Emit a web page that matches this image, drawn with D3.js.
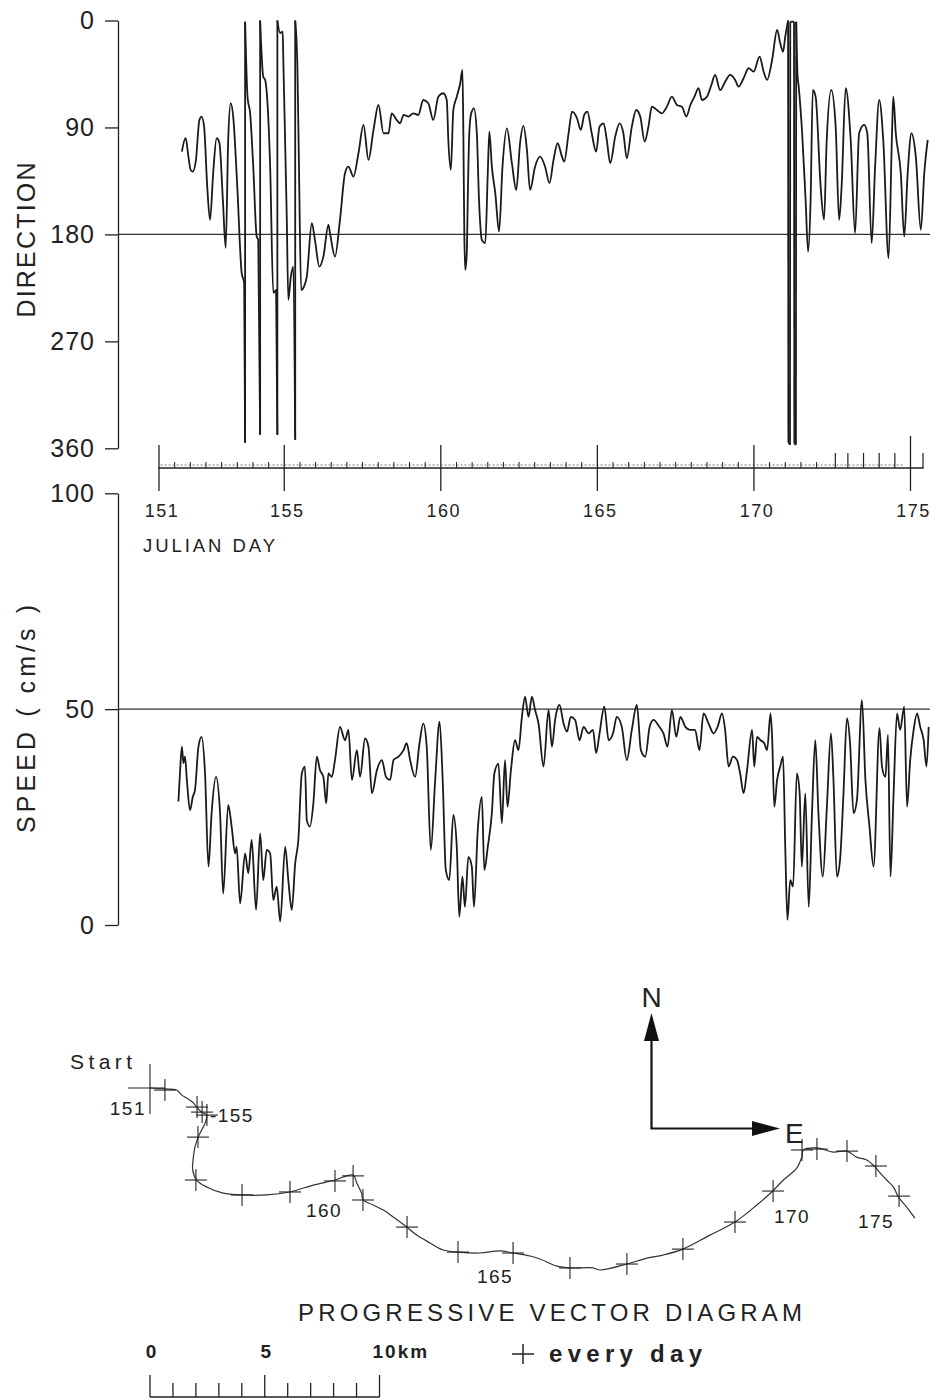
<!DOCTYPE html>
<html>
<head>
<meta charset="utf-8">
<script src="https://cdn.jsdelivr.net/npm/d3@7"></script>
<style>
  body { margin: 0; background: #fff; }
  svg { display: block; }
  text { font-family: "Liberation Sans", Arial, Helvetica, sans-serif; fill: #222; }
</style>
</head>
<body>
<svg id="chart" width="930" height="1400"></svg>
<script>
// ── Data ──────────────────────────────────────────────────────────
const dirTicks   = [0, 90, 180, 270, 360];
const speedTicks = [0, 50, 100];
const dayTicks   = [151, 155, 160, 165, 170, 175];
const markTicks  = [172.6, 173.0, 173.5, 174.0, 174.5, 175.4];
const kmTicks    = [0, 1, 2, 3, 4, 5, 6, 7, 8, 9, 10];
const kmLabels   = [0, 5, 10];

// [julian day, direction deg]; wraps through 0/360 are kept as drawn by the plotter
const direction = [
  [151.73,110.4],[151.85,98.8],[151.94,114.6],[152.01,125.7],[152.08,127.2],[152.18,117.3],[152.29,83.7],[152.36,80.9],
  [152.44,89.3],[152.54,139.8],[152.63,167.8],[152.73,128.5],[152.84,99.1],[152.93,103.0],[153.04,151.0],[153.13,191.4],
  [153.21,100.5],[153.29,69.6],[153.37,80.9],[153.50,139.8],[153.64,212.4],[153.72,220.8],[153.75,355.4],[153.75,1.0],
  [153.83,65.2],[153.91,77.8],[154.01,123.0],[154.12,181.8],[154.17,184.6],[154.23,348.6],[154.23,0],[154.33,47.3],
  [154.39,50.0],[154.55,123.0],[154.65,229.2],[154.74,226.7],[154.78,348.6],[154.78,0],[154.87,10.5],[154.95,9.4],
  [154.97,33.2],[155.08,165.0],[155.13,235.1],[155.21,215.5],[155.29,207.1],[155.35,352.8],[155.35,0],[155.42,38.9],
  [155.47,123.0],[155.54,226.7],[155.63,223.9],[155.72,215.5],[155.88,170.6],[155.98,184.6],[156.12,207.1],[156.25,198.7],
  [156.41,172.0],[156.46,178.7],[156.62,198.7],[156.78,167.8],[156.94,128.5],[157.05,123.0],[157.21,131.4],[157.37,111.7],
  [157.53,87.9],[157.69,117.3],[157.85,92.1],[158.01,71.1],[158.17,94.9],[158.33,94.9],[158.43,78.1],[158.59,83.7],
  [158.70,86.5],[158.81,79.5],[158.97,80.9],[159.12,78.1],[159.28,79.5],[159.44,66.9],[159.60,69.6],[159.76,83.7],
  [159.92,64.1],[160.08,61.2],[160.19,66.9],[160.24,100.5],[160.32,125.7],[160.40,75.3],[160.51,64.1],[160.62,52.8],
  [160.69,41.6],[160.72,94.6],[160.75,178.7],[160.78,209.9],[160.83,195.6],[160.86,151.0],[160.91,94.6],[160.97,78.1],
  [161.06,73.9],[161.15,94.9],[161.22,151.0],[161.31,184.6],[161.42,187.4],[161.50,128.5],[161.55,93.5],[161.63,123.0],
  [161.74,145.3],[161.86,177.6],[161.97,123.0],[162.11,90.7],[162.27,120.1],[162.41,142.6],[162.53,103.3],[162.64,88.7],
  [162.75,108.9],[162.85,142.6],[163.01,123.0],[163.17,114.6],[163.33,123.0],[163.47,136.9],[163.60,117.3],[163.73,103.3],
  [163.87,114.6],[163.94,118.8],[164.08,94.9],[164.19,76.7],[164.35,82.3],[164.47,92.1],[164.58,79.5],[164.68,76.7],
  [164.82,94.9],[164.96,110.4],[165.07,89.3],[165.20,86.5],[165.30,100.5],[165.41,120.1],[165.57,97.7],[165.71,86.5],
  [165.83,94.9],[165.94,115.9],[166.10,89.3],[166.24,75.3],[166.37,80.9],[166.51,101.9],[166.63,89.3],[166.74,72.5],
  [166.90,75.3],[167.06,78.1],[167.22,72.5],[167.38,64.1],[167.54,71.1],[167.70,72.5],[167.84,80.9],[167.97,71.1],
  [168.10,64.1],[168.23,57.0],[168.34,66.9],[168.50,64.1],[168.64,54.3],[168.76,45.8],[168.92,58.5],[169.08,51.5],
  [169.24,45.8],[169.40,50.0],[169.51,55.7],[169.67,48.6],[169.83,40.2],[169.99,43.1],[170.18,30.4],[170.31,43.1],
  [170.42,50.0],[170.58,33.2],[170.74,8.0],[170.84,19.2],[170.93,26.2],[171.00,13.6],[171.09,0],[171.10,355],
  [171.15,357],[171.16,1],[171.28,1],[171.29,356],[171.34,357],[171.35,1],[171.39,45],[171.43,55.7],
  [171.54,94.9],[171.65,151.0],[171.73,194.5],[171.81,151.0],[171.88,58.5],[171.97,64.1],[172.13,139.8],[172.24,167.8],
  [172.32,103.3],[172.47,58.5],[172.61,89.3],[172.72,167.8],[172.80,139.8],[172.93,57.0],[173.09,100.5],[173.23,179.0],
  [173.36,94.9],[173.52,87.9],[173.62,94.9],[173.76,187.4],[173.87,123.0],[174.00,66.9],[174.13,100.5],[174.30,200.0],
  [174.41,94.9],[174.45,64.1],[174.53,94.9],[174.69,128.5],[174.80,181.8],[174.91,128.5],[175.03,94.9],[175.17,114.6],
  [175.33,176.2],[175.44,128.5],[175.55,100.5]
];

// [julian day, speed cm/s]
const speed = [
  [151.62,28.6],[151.67,35.2],[151.73,41.3],[151.78,37.5],[151.83,39.0],[151.89,33.6],[151.99,26.6],[152.08,29.7],
  [152.15,31.3],[152.26,41.3],[152.36,43.6],[152.47,35.1],[152.58,13.5],[152.68,25.9],[152.82,34.3],[152.95,25.9],
  [153.05,7.3],[153.21,27.8],[153.32,22.8],[153.43,16.6],[153.48,18.1],[153.59,5.0],[153.75,16.6],[153.85,12.0],
  [153.96,19.7],[154.10,3.5],[154.23,21.2],[154.33,10.4],[154.44,17.4],[154.55,16.6],[154.65,5.8],[154.76,8.9],
  [154.87,0.8],[155.03,18.1],[155.13,10.4],[155.24,3.5],[155.35,14.3],[155.45,19.7],[155.56,35.1],[155.66,36.7],
  [155.72,24.3],[155.82,22.8],[155.93,28.2],[156.04,39.0],[156.14,35.9],[156.25,34.3],[156.34,28.2],[156.41,35.1],
  [156.52,34.3],[156.62,38.2],[156.78,45.9],[156.94,42.8],[157.05,45.2],[157.16,33.6],[157.32,40.5],[157.42,34.3],
  [157.58,43.2],[157.69,41.3],[157.80,30.5],[157.96,35.9],[158.12,38.2],[158.25,34.3],[158.38,33.6],[158.49,38.2],
  [158.65,39.0],[158.81,40.5],[158.91,42.1],[159.02,38.2],[159.18,34.3],[159.32,42.1],[159.44,46.7],[159.55,41.3],
  [159.68,17.4],[159.82,33.6],[159.96,47.1],[160.06,33.6],[160.16,12.7],[160.27,10.4],[160.40,25.5],[160.51,18.1],
  [160.59,1.9],[160.69,11.2],[160.77,4.2],[160.88,15.8],[160.99,13.5],[161.06,4.2],[161.18,22.0],[161.31,29.7],
  [161.39,12.7],[161.50,18.1],[161.63,25.9],[161.71,35.1],[161.84,37.4],[161.95,23.6],[162.05,38.2],[162.13,27.4],
  [162.24,35.9],[162.37,42.8],[162.48,40.5],[162.59,48.2],[162.69,52.9],[162.80,48.2],[162.91,52.9],[163.01,49.8],
  [163.12,46.7],[163.28,36.7],[163.44,49.8],[163.55,41.3],[163.65,47.5],[163.79,51.0],[163.92,46.7],[164.03,44.8],
  [164.15,48.2],[164.29,47.5],[164.43,42.8],[164.56,45.9],[164.72,44.4],[164.86,45.2],[164.96,39.8],[165.07,44.4],
  [165.22,50.6],[165.36,42.8],[165.50,44.4],[165.62,48.2],[165.78,45.9],[165.94,38.2],[166.10,45.2],[166.26,51.0],
  [166.39,40.5],[166.53,39.0],[166.67,45.9],[166.79,47.5],[166.98,45.9],[167.11,44.4],[167.24,41.3],[167.38,49.8],
  [167.52,43.6],[167.65,48.2],[167.81,45.9],[167.96,45.2],[168.12,45.2],[168.26,40.5],[168.39,49.0],[168.55,46.7],
  [168.71,44.4],[168.84,45.9],[168.98,49.0],[169.08,45.2],[169.19,36.7],[169.33,39.0],[169.46,38.2],[169.56,35.1],
  [169.67,30.5],[169.78,35.9],[169.94,45.2],[170.01,36.7],[170.10,43.6],[170.21,42.8],[170.33,42.1],[170.42,40.5],
  [170.53,49.0],[170.58,43.6],[170.65,27.4],[170.74,33.6],[170.84,36.7],[170.93,39.0],[171.00,18.1],[171.07,1.2],
  [171.16,10.4],[171.25,8.9],[171.37,35.1],[171.46,30.5],[171.53,13.5],[171.64,30.5],[171.75,4.2],[171.85,25.1],
  [171.96,42.8],[172.06,25.9],[172.20,11.2],[172.33,27.4],[172.46,44.4],[172.54,33.6],[172.65,11.2],[172.75,15.1],
  [172.86,30.5],[172.97,47.9],[173.07,42.1],[173.18,25.9],[173.29,29.0],[173.45,52.1],[173.56,33.6],[173.69,22.8],
  [173.82,13.5],[174.01,45.6],[174.09,36.7],[174.20,34.3],[174.28,44.0],[174.36,11.2],[174.46,30.5],[174.57,49.0],
  [174.67,45.2],[174.80,50.6],[174.89,27.4],[174.99,38.2],[175.10,45.2],[175.21,49.0],[175.31,45.9],[175.42,42.8],
  [175.51,36.7],[175.58,45.9]
];

// progressive vector track, [km east, km north] from the start
const pvdTrack = [
  [0,0],[0.65,-0.04],[1.16,-0.09],[1.38,-0.31],[1.60,-0.44],[1.89,-0.65],[2.03,-0.83],[2.25,-1.05],[2.47,-1.18],
  [2.40,-1.53],[2.25,-1.83],[2.10,-2.14],[1.96,-2.57],[1.89,-3.01],[1.86,-3.57],[2.03,-4.01],[2.47,-4.31],[3.19,-4.58],
  [4.00,-4.66],[5.08,-4.66],[6.10,-4.53],[7.12,-4.23],[8.06,-4.01],[8.42,-3.88],[8.86,-3.79],[9.01,-4.14],[9.22,-4.58],
  [9.29,-4.88],[9.73,-5.10],[10.17,-5.32],[10.60,-5.62],[11.19,-6.06],[11.62,-6.41],[12.20,-6.75],[12.78,-7.06],
  [13.43,-7.15],[14.38,-7.19],[15.25,-7.10],[15.83,-7.19],[16.56,-7.32],[16.99,-7.45],[17.73,-7.76],[18.30,-7.84],
  [19.30,-7.84],[19.61,-7.93],[20.78,-7.67],[21.66,-7.41],[22.35,-7.28],[23.22,-7.02],[24.40,-6.41],[25.49,-5.84],
  [26.44,-5.10],[27.09,-4.53],[27.60,-4.01],[28.18,-3.49],[28.40,-3.01],[28.47,-2.70],[29.05,-2.61],[29.77,-2.79],
  [30.36,-2.75],[30.79,-3.01],[31.23,-3.14],[31.59,-3.44],[31.81,-3.70],[32.10,-4.01],[32.39,-4.31],[32.61,-4.75],
  [32.97,-5.19],[33.33,-5.67]
];

// daily positions on the track, [julian day, km east, km north]
const pvdDays = [
  [151,0,0],[152,0.65,-0.09],[153,2.05,-0.83],[154,2.27,-1.05],[155,2.48,-1.18],[156,2.09,-2.14],[157,2.00,-4.01],
  [158,4.01,-4.66],[159,6.10,-4.53],[160,8.06,-4.05],[161,8.85,-3.83],[162,9.28,-4.88],[163,11.20,-6.06],
  [164,13.42,-7.15],[165,15.82,-7.19],[166,18.30,-7.84],[167,20.78,-7.67],[168,23.22,-7.02],[169,25.49,-5.84],
  [170,27.15,-4.49],[171,28.41,-2.70],[172,29.06,-2.66],[173,30.37,-2.75],[174,31.63,-3.40],[175,32.64,-4.71]
];
const pvdLabelDays = [151, 155, 160, 165, 170, 175];

// ── Layout ────────────────────────────────────────────────────────
const svg = d3.select("#chart");
const INK = "#222";

const x    = d3.scaleLinear().domain([151, 175]).range([159, 910.5]);
const yDir = d3.scaleLinear().domain([0, 360]).range([20.5, 448.3]);
const ySpd = d3.scaleLinear().domain([0, 100]).range([925, 493.3]);
const pe   = d3.scaleLinear().domain([0, 10]).range([150, 379.5]);
const pn   = d3.scaleLinear().domain([0, -10]).range([1088, 1317.5]);

const AXIS_X = 118;

// ── Y axes ────────────────────────────────────────────────────────
function yAxis(scale, ticks) {
  const g = svg.append("g")
    .attr("transform", `translate(${AXIS_X},0)`)
    .call(d3.axisLeft(scale).tickValues(ticks).tickSize(13).tickSizeOuter(0).tickPadding(10));
  g.selectAll(".domain").attr("stroke", INK).attr("stroke-width", 1.3);
  g.selectAll(".tick line").attr("stroke", INK).attr("stroke-width", 1.3);
  g.selectAll(".tick text")
    .attr("fill", INK)
    .attr("font-size", 25)
    .attr("letter-spacing", 1)
    .attr("font-family", '"Liberation Sans", Arial, sans-serif');
  return g;
}
yAxis(yDir, dirTicks);
yAxis(ySpd, speedTicks);

function rotLabel(txt, cx, cy, len) {
  svg.append("text")
    .attr("transform", `translate(${cx},${cy}) rotate(-90)`)
    .attr("text-anchor", "middle")
    .attr("font-size", 25)
    .attr("textLength", len)
    .attr("lengthAdjust", "spacing")
    .text(txt);
}
rotLabel("DIRECTION", 35, 240, 155);
rotLabel("SPEED ( cm/s )", 35, 719, 228);

// reference lines at 180° and 50 cm/s
svg.append("line")
  .attr("x1", AXIS_X).attr("x2", 930)
  .attr("y1", yDir(180)).attr("y2", yDir(180))
  .attr("stroke", "#333").attr("stroke-width", 1.2);
svg.append("line")
  .attr("x1", AXIS_X).attr("x2", 930)
  .attr("y1", ySpd(50)).attr("y2", ySpd(50))
  .attr("stroke", "#333").attr("stroke-width", 1.2);

// ── Traces ────────────────────────────────────────────────────────
const TRACE = { fill: "none", stroke: "#1a1a1a", "stroke-width": 1.8, "stroke-linejoin": "round" };
function styled(sel) {
  Object.entries(TRACE).forEach(([k, v]) => sel.attr(k, v));
  return sel;
}

// split the direction record where it wraps through 0/360
const dirSegments = [];
const wraps = [];
let seg = [direction[0]];
for (let i = 1; i < direction.length; i++) {
  const a = direction[i - 1], b = direction[i];
  if (Math.abs(b[1] - a[1]) > 250) {
    dirSegments.push(seg);
    wraps.push([a, b]);
    seg = [b];
  } else {
    seg.push(b);
  }
}
dirSegments.push(seg);

const dirLine = d3.line().x(d => x(d[0])).y(d => yDir(d[1])).curve(d3.curveMonotoneX);
const spdLine = d3.line().x(d => x(d[0])).y(d => ySpd(d[1])).curve(d3.curveMonotoneX);

const dirG = svg.append("g");
dirSegments.filter(s => s.length > 1).forEach(s => styled(dirG.append("path").datum(s).attr("d", dirLine)));
wraps.forEach(w => {
  styled(dirG.append("line"))
    .attr("x1", x(w[0][0])).attr("y1", yDir(w[0][1]))
    .attr("x2", x(w[1][0])).attr("y2", yDir(w[1][1]));
});

styled(svg.append("path").datum(speed).attr("d", spdLine));

// ── Time axis ─────────────────────────────────────────────────────
const T_Y = 468;
const tAxis = svg.append("g");

tAxis.append("line")
  .attr("x1", x(150.97)).attr("x2", x(175.42))
  .attr("y1", T_Y).attr("y2", T_Y)
  .attr("stroke", INK).attr("stroke-width", 1.4);
tAxis.append("line")
  .attr("x1", x(151.05)).attr("x2", x(174.8))
  .attr("y1", T_Y - 3).attr("y2", T_Y - 3)
  .attr("stroke", "#555").attr("stroke-width", 0.8)
  .attr("stroke-dasharray", "2,2");

const minor = d3.range(151.5, 175.5, 0.5).filter(d => !dayTicks.includes(d) && d < 172.5);
tAxis.selectAll(".minor").data(minor).join("line")
  .attr("x1", d => x(d)).attr("x2", d => x(d))
  .attr("y1", T_Y).attr("y2", T_Y - 6)
  .attr("stroke", INK).attr("stroke-width", 1);

tAxis.selectAll(".mark").data(markTicks).join("line")
  .attr("x1", d => x(d)).attr("x2", d => x(d))
  .attr("y1", T_Y).attr("y2", T_Y - 15)
  .attr("stroke", INK).attr("stroke-width", 1.2);

tAxis.selectAll(".major").data(dayTicks).join("line")
  .attr("x1", d => x(d)).attr("x2", d => x(d))
  .attr("y1", d => d === 175 ? T_Y - 32 : T_Y - 23).attr("y2", T_Y + 23)
  .attr("stroke", INK).attr("stroke-width", 1.3);

tAxis.selectAll(".daylab").data(dayTicks).join("text")
  .attr("x", d => x(d) + 3)
  .attr("y", 517)
  .attr("text-anchor", "middle")
  .attr("font-size", 18)
  .attr("letter-spacing", 1.5)
  .text(d => d);

svg.append("text")
  .attr("x", 143).attr("y", 552)
  .attr("font-size", 18.5)
  .attr("textLength", 132).attr("lengthAdjust", "spacing")
  .text("JULIAN DAY");

// ── Progressive vector diagram ────────────────────────────────────
const pvdLine = d3.line().x(d => pe(d[0])).y(d => pn(d[1])).curve(d3.curveCatmullRom.alpha(0.5));

svg.append("path").datum(pvdTrack)
  .attr("d", pvdLine)
  .attr("fill", "none").attr("stroke", "#333")
  .attr("stroke-width", 1.2);

function cross(g, cx, cy, a, b) {
  g.append("line").attr("x1", cx - a).attr("x2", cx + a).attr("y1", cy).attr("y2", cy);
  g.append("line").attr("x1", cx).attr("x2", cx).attr("y1", cy - b).attr("y2", cy + b);
}
const crossG = svg.append("g").attr("stroke", "#222").attr("stroke-width", 1.1);
pvdDays.forEach(d => {
  if (d[0] === 151) {
    crossG.append("line").attr("x1", pe(d[1]) - 22).attr("x2", pe(d[1]) + 15)
      .attr("y1", pn(d[2])).attr("y2", pn(d[2]));
    crossG.append("line").attr("x1", pe(d[1])).attr("x2", pe(d[1]))
      .attr("y1", pn(d[2]) - 24).attr("y2", pn(d[2]) + 26);
  } else {
    cross(crossG, pe(d[1]), pn(d[2]), 11, 11);
  }
});

// day labels next to the track
const labelOffset = {
  151: [-4, 27, "end"],
  155: [3, 7, "start"],
  160: [-11, 36, "middle"],
  165: [-18, 30, "middle"],
  170: [19, 32, "middle"],
  175: [-23, 32, "middle"]
};
pvdDays.filter(d => pvdLabelDays.includes(d[0])).forEach(d => {
  const o = labelOffset[d[0]];
  svg.append("text")
    .attr("x", pe(d[1]) + o[0]).attr("y", pn(d[2]) + o[1])
    .attr("text-anchor", o[2])
    .attr("font-size", 19)
    .attr("letter-spacing", 1.5)
    .text((d[0] === 155 ? "-" : "") + d[0]);
});

svg.append("text")
  .attr("x", 70).attr("y", 1069)
  .attr("font-size", 21)
  .attr("textLength", 62).attr("lengthAdjust", "spacing")
  .text("Start");

// north / east arrows
const ARR_X = 651.5, ARR_Y = 1128.5;
const N_TIP = 1013, E_TIP = 780;
const arrows = svg.append("g");
arrows.append("path")
  .attr("d", `M${ARR_X},${N_TIP + 20}V${ARR_Y}H${E_TIP - 20}`)
  .attr("fill", "none").attr("stroke", "#111").attr("stroke-width", 2.2);
arrows.append("path")
  .attr("d", `M${ARR_X},${N_TIP}L${ARR_X + 7.5},${N_TIP + 28}L${ARR_X - 7.5},${N_TIP + 28}Z`)
  .attr("fill", "#111");
arrows.append("path")
  .attr("d", `M${E_TIP},${ARR_Y}L${E_TIP - 28},${ARR_Y - 7.5}L${E_TIP - 28},${ARR_Y + 7.5}Z`)
  .attr("fill", "#111");

svg.append("text")
  .attr("x", ARR_X).attr("y", 1007)
  .attr("text-anchor", "middle")
  .attr("font-family", '"Liberation Serif", "DejaVu Serif", serif')
  .attr("font-size", 28)
  .text("N");
svg.append("text")
  .attr("x", 785).attr("y", 1143)
  .attr("font-family", '"Liberation Serif", "DejaVu Serif", serif')
  .attr("font-size", 28)
  .text("E");

svg.append("text")
  .attr("x", 298).attr("y", 1321)
  .attr("font-size", 24)
  .attr("textLength", 504).attr("lengthAdjust", "spacing")
  .text("PROGRESSIVE VECTOR DIAGRAM");

// ── Scale bar and legend ─────────────────────────────────────────
const BAR_Y = 1397;
const bar = svg.append("g").attr("stroke", INK).attr("stroke-width", 1.6);
bar.append("line").attr("x1", pe(0)).attr("x2", pe(10)).attr("y1", BAR_Y).attr("y2", BAR_Y);
bar.selectAll(".km").data(kmTicks).join("line")
  .attr("x1", d => pe(d)).attr("x2", d => pe(d))
  .attr("y1", BAR_Y)
  .attr("y2", d => kmLabels.includes(d) ? BAR_Y - 22 : BAR_Y - 14)
  .attr("stroke-width", 1.3);

svg.selectAll(".kmlab").data(kmLabels).join("text")
  .attr("x", d => d === 10 ? pe(d) - 7 : pe(d) + 1)
  .attr("y", 1358)
  .attr("text-anchor", d => d === 10 ? "start" : "middle")
  .attr("font-size", 19)
  .attr("font-weight", "bold")
  .attr("letter-spacing", d => d === 10 ? 2 : 0)
  .text(d => d === 10 ? "10km" : d);

const leg = svg.append("g").attr("stroke", INK).attr("stroke-width", 1.5);
cross(leg, 523, 1354, 11, 10);
svg.append("text")
  .attr("x", 549).attr("y", 1362)
  .attr("font-size", 24)
  .attr("font-weight", "bold")
  .attr("textLength", 153).attr("lengthAdjust", "spacing")
  .text("every day");
</script>
</body>
</html>
